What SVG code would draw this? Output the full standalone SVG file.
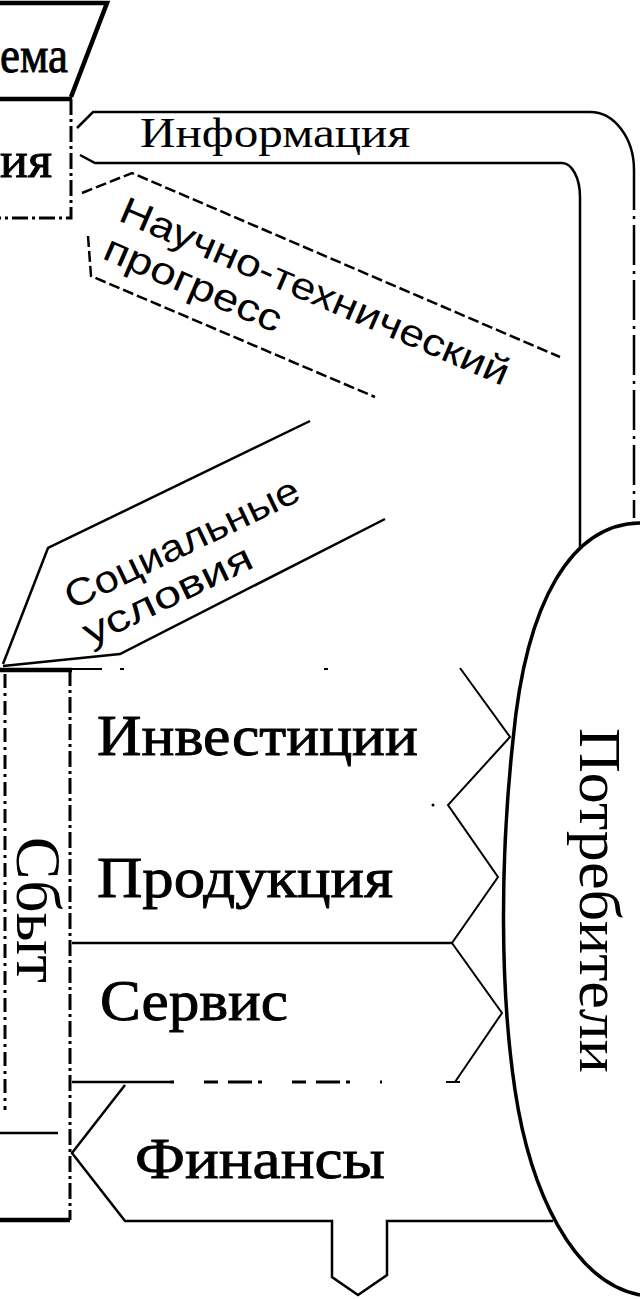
<svg xmlns="http://www.w3.org/2000/svg" width="640" height="1299" viewBox="0 0 640 1299">
<style>
.ln{fill:none;stroke:#000;stroke-width:2.5}
.thin{fill:none;stroke:#000;stroke-width:2}
.thick{fill:none;stroke:#000;stroke-width:4.5}
.dash{fill:none;stroke:#000;stroke-width:2.5;stroke-dasharray:11 4}
.dd{fill:none;stroke:#000;stroke-width:3;stroke-dasharray:16 4 3 4}
.ser{font-family:"Liberation Serif","Times New Roman",serif;fill:#000}
.big{stroke:#000;stroke-width:0.9}
.sans{font-family:"Liberation Sans",Arial,sans-serif;fill:#000}
</style>
<rect width="640" height="1299" fill="#fff"/>

<g id="node-sistema">
  <path class="thick" d="M0,3 H107 L71,97"/>
  <path class="thick" d="M0,99 H72"/>
  <text class="ser big" x="0" y="72" font-size="50" textLength="68" lengthAdjust="spacingAndGlyphs">ема</text>
</g>

<g id="node-ia">
  <path class="dd" d="M71,99 V218 H0"/>
  <text class="ser big" x="0" y="177" font-size="50" textLength="52" lengthAdjust="spacingAndGlyphs">ия</text>
</g>

<g id="node-sbyt">
  <path class="thick" d="M0,670 H72"/>
  <path class="dd" d="M70,670 V1220" stroke-width="4"/>
  <path fill="none" stroke="#000" stroke-width="3" stroke-dasharray="14 5 3 5" d="M5,674 V1110"/>
  <path class="ln" d="M0,1133 H58" stroke-width="3"/>
  <path class="thick" d="M0,1220 H70"/>
  <text class="ser" transform="translate(17,837) rotate(90)" font-size="63" textLength="146" lengthAdjust="spacingAndGlyphs">Сбыт</text>
</g>

<g id="node-potrebiteli">
  <path fill="none" stroke="#000" stroke-width="3.5" d="M640,523 C572,524 526,600 513,740 C500,860 500,990 515,1090 C530,1190 572,1282 640,1295"/>
  <text class="ser" transform="translate(580,728) rotate(90)" font-size="60" textLength="345" lengthAdjust="spacingAndGlyphs">Потребители</text>
</g>

<g id="connectors">
  <g id="flow-informatsiya">
    <path class="ln" d="M77,128 L93,112 H590 A44,58 0 0 1 634,170"/>
    <path fill="none" stroke="#000" stroke-width="2.5" stroke-dasharray="40 6 3 6" d="M634,170 V518"/>
    <path class="ln" d="M80,155 L95,163 H562 A18,34 0 0 1 580,197 V547"/>
    <text class="ser" x="140" y="147" font-size="42" textLength="270" lengthAdjust="spacingAndGlyphs">Информация</text>
  </g>
  <g id="flow-ntp">
    <path class="dash" d="M82,193 L132,173 L560,357"/>
    <path class="dash" d="M88,236 L91,276 L375,397"/>
    <text class="sans" transform="translate(117,220) rotate(23.3)" font-size="38" textLength="420" lengthAdjust="spacingAndGlyphs">Научно-технический</text>
    <text class="sans" transform="translate(101,258) rotate(23.3)" font-size="38" textLength="190" lengthAdjust="spacingAndGlyphs">прогресс</text>
  </g>
  <g id="flow-social">
    <path class="ln" d="M3,664 L48,548 L310,421"/>
    <path class="ln" d="M3,666 L120,654 L385,519"/>
    <text class="sans" transform="translate(72,610) rotate(-25.6)" font-size="38" textLength="256" lengthAdjust="spacingAndGlyphs">Социальные</text>
    <text class="sans" transform="translate(90,646) rotate(-25.6)" font-size="38" textLength="184" lengthAdjust="spacingAndGlyphs">условия</text>
  </g>
  <g id="flow-products">
    <path fill="none" stroke="#000" stroke-width="2" stroke-dasharray="30 18 4 200 4 200" d="M72,669 H460"/>
    <path class="thin" d="M460,668 L510,737 L448,805 L498,877 L452,943 L502,1013 L455,1082"/>
    <path class="thin" d="M446,1082 H460"/>
    <circle cx="433" cy="805" r="1.5" fill="#000"/>
    <path class="ln" d="M72,943 H452" stroke-width="3"/>
    <path class="ln" d="M72,1082 H170" stroke-width="3"/>
    <path fill="none" stroke="#000" stroke-width="3" stroke-dasharray="4 30 14 10 24 6" d="M170,1082 H382"/>
    <text class="ser big" x="97" y="755" font-size="58" textLength="321" lengthAdjust="spacingAndGlyphs">Инвестиции</text>
    <text class="ser big" x="97" y="897" font-size="58" textLength="296" lengthAdjust="spacingAndGlyphs">Продукция</text>
    <text class="ser big" x="100" y="1020" font-size="58" textLength="188" lengthAdjust="spacingAndGlyphs">Сервис</text>
  </g>
  <g id="flow-finansy">
    <path class="ln" d="M125,1085 L72,1153 L125,1221 H332 V1277 L358,1295 L387,1275 V1221 H553"/>
    <text class="ser big" x="135" y="1178" font-size="58" textLength="250" lengthAdjust="spacingAndGlyphs">Финансы</text>
  </g>
</g>
</svg>
